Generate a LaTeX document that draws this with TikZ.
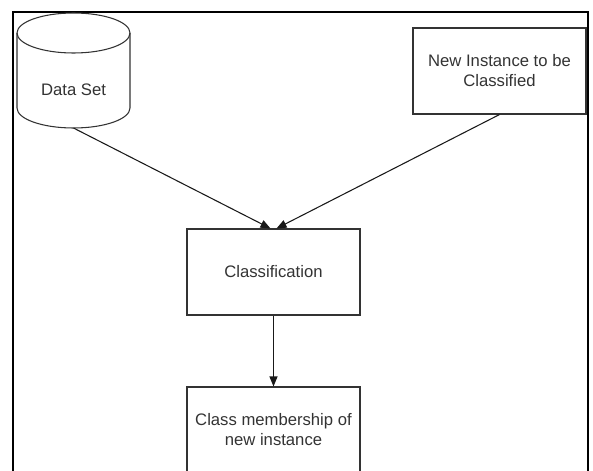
\documentclass[tikz,border=0pt]{standalone}
\usepackage{fontspec}
\setmainfont{Liberation Sans}
\usetikzlibrary{arrows.meta,calc}
\begin{document}
\begin{tikzpicture}[x=0.75pt,y=-0.75pt,
  box/.style={draw=black!80,line width=0.8pt,minimum width=129.75pt,minimum height=64.5pt,inner sep=0pt,align=center,text=black!80,font=\fontsize{12.5}{15}\selectfont},
  lbl/.style={inner sep=0pt,text=black!80,font=\fontsize{12.5}{15}\selectfont},
  flow/.style={draw=black!90,line width=0.8pt,-{Triangle[length=7.5pt,width=6pt]}}]
  \useasboundingbox (0,0) rectangle (593,471);
  \clip (0,0) rectangle (593,471);
  % outer frame
  \draw[line width=2pt] (13,12) rectangle (588,480);
  % data store cylinder
  \draw[draw=black!80,line width=0.8pt,fill=white] (17,33) -- (17,108)
    arc[start angle=180,end angle=0,x radius=56.5,y radius=20] -- (130,33);
  \draw[draw=black!80,line width=0.8pt] (73.5,33) ellipse [x radius=56.5,y radius=20];
  \node[lbl] (ds) at (73.5,90) {Data Set};
  \coordinate (dsb) at (73.5,128);
  % process boxes
  \node[box] (ni) at (499.5,71) {New Instance to be\\Classified};
  \node[box] (cls) at (273.5,272) {Classification};
  \node[box] (out) at (273.5,430) {Class membership of\\new instance};
  % connectors
  \draw[flow] (dsb) -- ($(cls.north)+(-3,0)$);
  \draw[flow] (ni.south) -- ($(cls.north)+(3,0)$);
  \draw[flow] (cls.south) -- (out.north);
\end{tikzpicture}
\end{document}
